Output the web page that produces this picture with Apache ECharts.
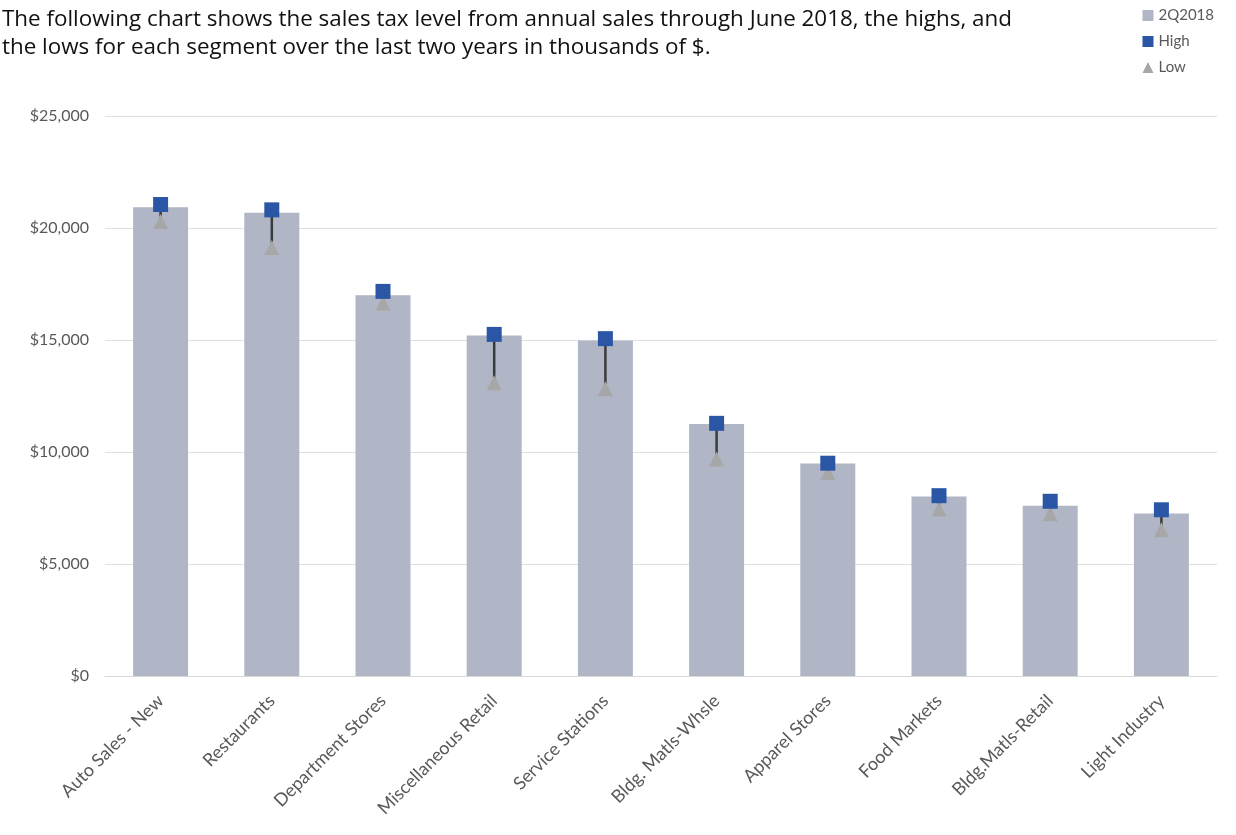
<!DOCTYPE html>
<html>
<head>
<meta charset="utf-8">
<script src="https://cdn.jsdelivr.net/npm/echarts@6/dist/echarts.min.js"></script>
<style>
  html, body { margin: 0; padding: 0; background: #fff; }
  #chart { width: 1236px; height: 835px; }
</style>
</head>
<body>
<div id="chart"></div>
<script>
const segments = ['Auto Sales - New', 'Restaurants', 'Department Stores', 'Miscellaneous Retail', 'Service Stations',
  'Bldg. Matls-Whsle', 'Apparel Stores', 'Food Markets', 'Bldg.Matls-Retail', 'Light Industry']
const current = [20930, 20680, 17000, 15200, 14980, 11250, 9490, 8010, 7600, 7250]
const highs = [21050, 20810, 17170, 15250, 15060, 11280, 9500, 8050, 7800, 7420]
const lows = [20290, 19130, 16650, 13090, 12820, 9690, 9090, 7450, 7240, 6530]

const chart = echarts.init(document.getElementById('chart'))

const axisFont = { color: '#595959', fontFamily: 'Lato', fontSize: 15 }

const option = {
  animation: false,
  title: {
    text: 'The following chart shows the sales tax level from annual sales through June 2018, the highs, and\nthe lows for each segment over the last two years in thousands of $.',
    left: -3,
    top: 1,
    textStyle: { fontFamily: 'Open Sans', fontSize: 22.4, fontWeight: 'normal', color: '#111', lineHeight: 28 }
  },
  legend: {
    orient: 'vertical',
    right: 17,
    top: 3,
    itemWidth: 11,
    itemHeight: 11,
    itemGap: 11,
    textStyle: { color: '#595959', fontFamily: 'Lato', fontSize: 15 },
    data: [
      { name: '2Q2018', icon: 'rect' },
      { name: 'High', icon: 'rect' },
      { name: 'Low', icon: 'triangle' }
    ]
  },
  grid: { left: 105, right: 19, top: 116, bottom: 159 },
  xAxis: {
    type: 'category',
    data: segments,
    axisLine: { lineStyle: { color: '#d9d9d9', width: 1 } },
    axisTick: { show: false },
    axisLabel: Object.assign({ rotate: 45, margin: 22, interval: 0 }, axisFont, { fontSize: 18 })
  },
  yAxis: {
    type: 'value',
    min: 0,
    max: 25000,
    interval: 5000,
    axisLine: { show: false },
    axisTick: { show: false },
    splitLine: { lineStyle: { color: '#e0e0e0', width: 1 } },
    axisLabel: Object.assign({
      margin: 16,
      formatter: v => '$' + v.toLocaleString('en-US')
    }, axisFont, { fontSize: 16 })
  },
  series: [
    {
      name: '2Q2018',
      type: 'bar',
      data: current,
      barWidth: 55,
      itemStyle: { color: '#b1b6c7' },
      z: 1
    },
    {
      name: 'HighLow',
      type: 'custom',
      data: segments.map((s, i) => [i, highs[i], lows[i]]),
      renderItem: (params, api) => {
        const top = api.coord([api.value(0), api.value(1)])
        const bottom = api.coord([api.value(0), api.value(2)])
        return {
          type: 'line',
          shape: { x1: top[0], y1: top[1], x2: bottom[0], y2: bottom[1] },
          style: { stroke: '#3a3a3a', lineWidth: 2.5 }
        }
      },
      z: 2,
      silent: true
    },
    {
      name: 'Low',
      type: 'scatter',
      data: lows,
      symbol: 'triangle',
      symbolSize: 15,
      itemStyle: { color: '#a7a7a7', opacity: 1 },
      z: 3
    },
    {
      name: 'High',
      type: 'scatter',
      data: highs,
      symbol: 'rect',
      symbolSize: 15,
      itemStyle: { color: '#2b56a6', opacity: 1 },
      z: 4
    }
  ]
}

chart.setOption(option)
</script>
</body>
</html>
